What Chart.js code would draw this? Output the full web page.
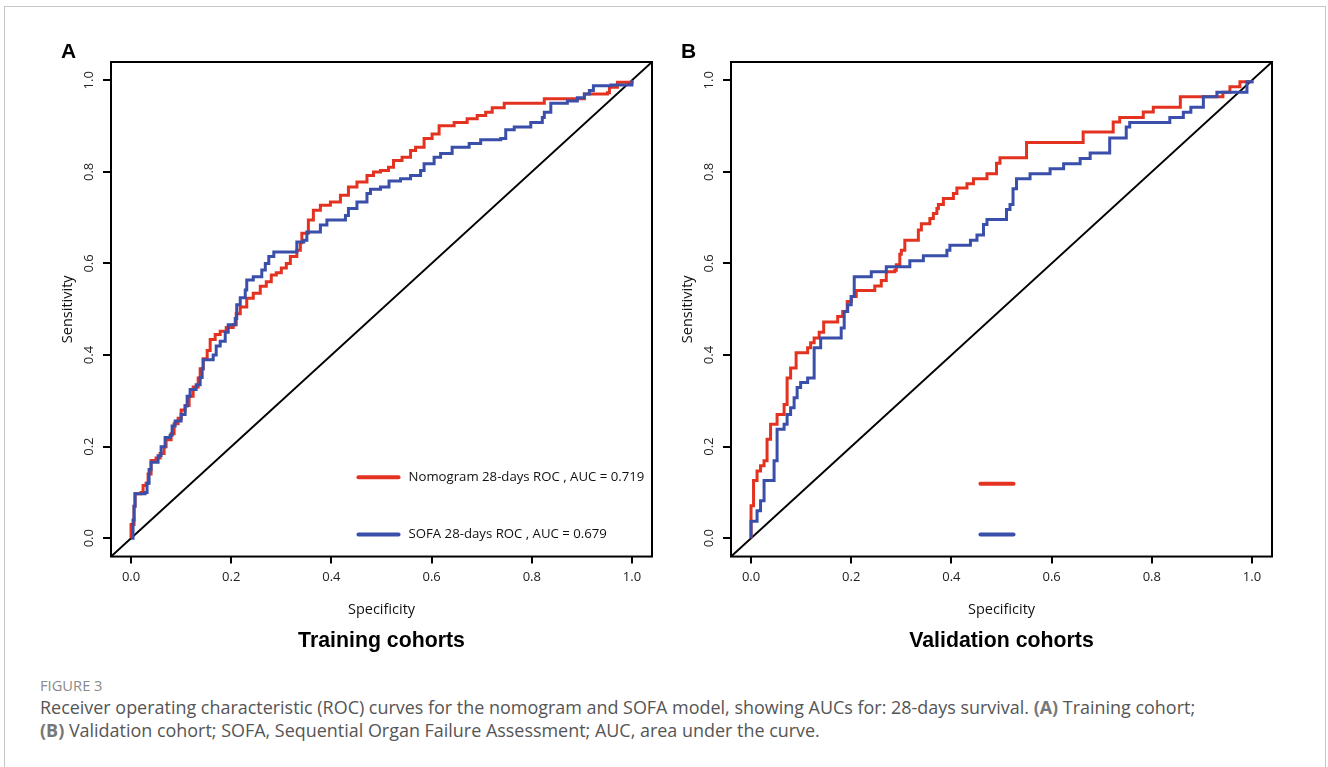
<!DOCTYPE html>
<html><head><meta charset="utf-8">
<script src="https://cdn.jsdelivr.net/npm/chart.js@4.4.0/dist/chart.umd.min.js"></script>
<style>
html,body{margin:0;padding:0;background:#fff;width:1328px;height:767px;overflow:hidden;}
#frame{position:absolute;left:4px;top:6px;width:1322px;height:800px;border:1.5px solid #c6c6c6;box-sizing:border-box;}
.panel{position:absolute;top:0;width:664px;height:665px;}
#pa{left:0}
#pb{left:620px}
#figlab{position:absolute;left:40px;top:675px;font-family:'Open Sans',sans-serif;font-size:14.7px;color:#8a8a8a;}
.cap{position:absolute;left:40px;font-family:'Open Sans',sans-serif;font-size:17.95px;color:#555;white-space:nowrap;}
.cap b{color:#777;font-weight:700;}
</style></head>
<body>
<div id="frame"></div>
<div class="panel" id="pa"><canvas id="ca" width="664" height="665"></canvas></div>
<div class="panel" id="pb"><canvas id="cb" width="664" height="665"></canvas></div>
<div id="figlab">FIGURE 3</div>
<div class="cap" id="cap1" style="top:695px">Receiver operating characteristic (ROC) curves for the nomogram and SOFA model, showing AUCs for: 28-days survival. <b>(A)</b> Training cohort;</div>
<div class="cap" id="cap2" style="top:718px"><b>(B)</b> Validation cohort; SOFA, Sequential Organ Failure Assessment; AUC, area under the curve.</div>
<script>
// ---------- data ----------
const axisTicks = [0, 0.2, 0.4, 0.6, 0.8, 1.0];
const panelLetters = ['A', 'B'];
const cohortTitles = ['Training cohorts', 'Validation cohorts'];
const legendLabelsA = ['Nomogram 28-days ROC , AUC = 0.719', 'SOFA 28-days ROC , AUC = 0.679'];
const legendLabelsB = ['', ''];
const xTitle = 'Specificity';
const yTitle = 'Sensitivity';

const trainNomogram = [[0,0],[0,0.03],[0.006,0.07],[0.008,0.097],[0.02,0.10],[0.024,0.115],[0.03,0.12],[0.034,0.14],[0.04,0.17],[0.05,0.175],[0.058,0.185],[0.066,0.2],[0.07,0.215],[0.08,0.228],[0.086,0.25],[0.094,0.262],[0.1,0.28],[0.108,0.29],[0.116,0.31],[0.124,0.33],[0.134,0.35],[0.138,0.37],[0.144,0.392],[0.152,0.41],[0.158,0.434],[0.168,0.445],[0.178,0.452],[0.19,0.46],[0.204,0.466],[0.21,0.49],[0.218,0.505],[0.231,0.524],[0.244,0.535],[0.258,0.55],[0.27,0.56],[0.28,0.575],[0.29,0.58],[0.3,0.59],[0.31,0.6],[0.318,0.615],[0.331,0.629],[0.338,0.645],[0.341,0.666],[0.354,0.695],[0.364,0.716],[0.378,0.727],[0.398,0.734],[0.418,0.749],[0.434,0.767],[0.451,0.778],[0.471,0.792],[0.484,0.80],[0.498,0.803],[0.514,0.81],[0.524,0.825],[0.541,0.832],[0.558,0.847],[0.568,0.854],[0.585,0.873],[0.601,0.883],[0.615,0.901],[0.645,0.908],[0.671,0.916],[0.691,0.923],[0.708,0.93],[0.721,0.94],[0.745,0.95],[0.818,0.95],[0.825,0.96],[0.885,0.96],[0.905,0.97],[0.951,0.973],[0.955,0.985],[0.971,0.996],[1,1]];

const trainSofa = [[0,0],[0.004,0.04],[0.006,0.07],[0.008,0.097],[0.028,0.10],[0.032,0.12],[0.036,0.15],[0.04,0.166],[0.054,0.18],[0.06,0.2],[0.068,0.22],[0.078,0.225],[0.082,0.245],[0.088,0.256],[0.1,0.27],[0.108,0.289],[0.112,0.31],[0.118,0.325],[0.13,0.335],[0.138,0.351],[0.142,0.37],[0.144,0.39],[0.164,0.40],[0.17,0.42],[0.178,0.43],[0.188,0.45],[0.194,0.466],[0.208,0.48],[0.211,0.51],[0.218,0.525],[0.228,0.542],[0.231,0.564],[0.244,0.571],[0.261,0.586],[0.268,0.6],[0.275,0.615],[0.285,0.625],[0.315,0.625],[0.331,0.647],[0.345,0.651],[0.351,0.669],[0.378,0.684],[0.391,0.695],[0.428,0.705],[0.434,0.72],[0.451,0.734],[0.471,0.753],[0.478,0.762],[0.498,0.767],[0.515,0.78],[0.538,0.785],[0.558,0.792],[0.578,0.803],[0.585,0.818],[0.605,0.832],[0.618,0.84],[0.641,0.854],[0.675,0.862],[0.698,0.87],[0.738,0.873],[0.748,0.892],[0.765,0.898],[0.798,0.908],[0.821,0.919],[0.825,0.93],[0.838,0.95],[0.871,0.955],[0.891,0.962],[0.905,0.97],[0.915,0.978],[0.923,0.988],[0.958,0.99],[1,0.993],[1,1]];

const validNomogram = [[0,0],[0,0.071],[0.005,0.071],[0.005,0.126],[0.012,0.147],[0.019,0.158],[0.026,0.169],[0.032,0.216],[0.039,0.249],[0.052,0.27],[0.066,0.292],[0.072,0.35],[0.079,0.372],[0.09,0.405],[0.113,0.416],[0.119,0.427],[0.126,0.437],[0.136,0.45],[0.145,0.472],[0.173,0.484],[0.183,0.495],[0.192,0.517],[0.2,0.528],[0.21,0.541],[0.243,0.541],[0.247,0.551],[0.257,0.551],[0.26,0.563],[0.27,0.563],[0.27,0.582],[0.287,0.585],[0.29,0.597],[0.297,0.62],[0.3,0.629],[0.307,0.651],[0.33,0.651],[0.334,0.673],[0.34,0.687],[0.357,0.698],[0.364,0.709],[0.371,0.72],[0.374,0.729],[0.384,0.742],[0.404,0.753],[0.411,0.765],[0.431,0.774],[0.444,0.785],[0.471,0.796],[0.49,0.797],[0.49,0.819],[0.497,0.831],[0.55,0.831],[0.55,0.864],[0.663,0.864],[0.663,0.887],[0.723,0.887],[0.723,0.909],[0.736,0.919],[0.783,0.919],[0.783,0.931],[0.803,0.941],[0.857,0.941],[0.857,0.964],[0.942,0.964],[0.942,0.974],[0.956,0.974],[0.956,0.986],[0.976,0.986],[0.976,0.997],[1,1]];

const validSofa = [[0,0],[0,0.037],[0.012,0.037],[0.012,0.06],[0.019,0.06],[0.019,0.082],[0.026,0.082],[0.026,0.126],[0.046,0.126],[0.046,0.169],[0.052,0.169],[0.052,0.238],[0.066,0.249],[0.072,0.27],[0.079,0.285],[0.086,0.307],[0.092,0.329],[0.099,0.34],[0.113,0.35],[0.126,0.35],[0.126,0.416],[0.139,0.416],[0.139,0.437],[0.18,0.437],[0.18,0.459],[0.186,0.459],[0.186,0.495],[0.193,0.51],[0.2,0.528],[0.206,0.542],[0.206,0.571],[0.24,0.582],[0.27,0.593],[0.317,0.606],[0.344,0.617],[0.391,0.629],[0.397,0.64],[0.438,0.651],[0.451,0.662],[0.464,0.685],[0.471,0.696],[0.51,0.696],[0.51,0.718],[0.517,0.729],[0.523,0.763],[0.53,0.785],[0.557,0.796],[0.597,0.807],[0.624,0.818],[0.657,0.829],[0.677,0.841],[0.716,0.841],[0.716,0.874],[0.749,0.874],[0.749,0.898],[0.756,0.908],[0.836,0.908],[0.836,0.919],[0.863,0.919],[0.863,0.93],[0.878,0.941],[0.903,0.941],[0.903,0.964],[0.93,0.964],[0.93,0.974],[0.99,0.974],[0.99,0.997],[1,1]];

const refLine = [[-0.04,-0.04],[1.04,1.04]];

// ---------- styling ----------
const RED = 'rgb(228,50,32)';
const BLUE = 'rgb(57,79,170)';
const AXIS_FONT = '"Open Sans", "Noto Sans", sans-serif';

const toXY = arr => arr.map(p => ({x: p[0], y: p[1]}));

const rocDecor = {
  id: 'rocDecor',
  afterDraw(chart, args, o) {
    const {ctx, chartArea: a, scales: {x, y}} = chart;
    ctx.save();
    ctx.strokeStyle = '#000'; ctx.lineWidth = 2;
    ctx.strokeRect(a.left, a.top, a.right - a.left, a.bottom - a.top);
    ctx.fillStyle = '#222'; ctx.font = '13px ' + AXIS_FONT;
    ctx.textAlign = 'center'; ctx.textBaseline = 'middle';
    y.ticks.forEach(t => {
      const py = y.getPixelForValue(t.value);
      ctx.save(); ctx.translate(a.left - 22, py); ctx.rotate(-Math.PI / 2);
      ctx.fillText(t.value.toFixed(1), 0, 0); ctx.restore();
    });
    ctx.font = 'bold 21px "Liberation Sans", Arial, sans-serif';
    ctx.fillStyle = '#000'; ctx.textAlign = 'left'; ctx.textBaseline = 'middle';
    ctx.fillText(o.letter, 61, 52);
    o.legend.forEach((item, i) => {
      const ds = chart.data.datasets[item.ds];
      const py = y.getPixelForValue(item.y);
      ctx.strokeStyle = ds.borderColor; ctx.lineWidth = 4; ctx.lineCap = 'round';
      ctx.beginPath(); ctx.moveTo(x.getPixelForValue(item.x0), py);
      ctx.lineTo(x.getPixelForValue(item.x1), py); ctx.stroke();
      if (o.labels[i]) {
        ctx.fillStyle = '#111'; ctx.font = '13.2px ' + AXIS_FONT;
        ctx.textAlign = 'left'; ctx.textBaseline = 'middle';
        ctx.fillText(o.labels[i], x.getPixelForValue(item.x1) + 10, py);
      }
    });
    ctx.restore();
  }
};

function makeChart(id, idx, nomo, sofa, labels, legendPos) {
  const setTicks = s => { s.ticks = axisTicks.map(v => ({value: v})); };
  return new Chart(document.getElementById(id), {
    type: 'scatter',
    data: {
      datasets: [
        {data: toXY(sofa), borderColor: BLUE, borderWidth: 3, showLine: true, stepped: true, pointRadius: 0, fill: false},
        {data: toXY(nomo), borderColor: RED, borderWidth: 3, showLine: true, stepped: true, pointRadius: 0, fill: false},
        {data: toXY(refLine), borderColor: '#000', borderWidth: 2, showLine: true, pointRadius: 0, fill: false}
      ]
    },
    options: {
      responsive: false, animation: false, events: [],
      layout: {padding: {top: 62, right: 12, left: 0, bottom: 0}},
      plugins: {
        legend: {display: false}, tooltip: {enabled: false},
        title: {display: true, position: 'bottom', fullSize: false, text: cohortTitles[idx], color: '#000',
          font: {family: '"Liberation Sans", Arial, sans-serif', weight: 'bold', size: 21.3}, padding: {top: 0, bottom: 11}},
        rocDecor: {letter: panelLetters[idx], labels: labels, legend: legendPos}
      },
      scales: {
        x: {type: 'linear', min: -0.04, max: 1.04,
          afterBuildTicks: setTicks,
          afterFit: s => { s.height = 71.9; },
          grid: {drawOnChartArea: false, drawTicks: true, tickLength: 7, color: '#000', lineWidth: 2},
          border: {display: false},
          ticks: {includeBounds: false, padding: 6, color: '#222', font: {family: AXIS_FONT, size: 13}, callback: v => v.toFixed(1)},
          title: {display: true, text: xTitle, color: '#111', font: {family: AXIS_FONT, size: 14.5}, padding: {top: 0, bottom: 10}}
        },
        y: {type: 'linear', min: -0.04, max: 1.04,
          afterBuildTicks: setTicks,
          afterFit: s => { s.width = 111; },
          grid: {drawOnChartArea: false, drawTicks: true, tickLength: 8, color: '#000', lineWidth: 2},
          border: {display: false},
          ticks: {display: false, includeBounds: false},
          title: {display: true, text: yTitle, color: '#111', font: {family: AXIS_FONT, size: 14.5}, padding: {top: 59, bottom: 0}}
        }
      }
    },
    plugins: [rocDecor]
  });
}

makeChart('ca', 0, trainNomogram, trainSofa, legendLabelsA,
  [{ds: 1, x0: 0.454, x1: 0.534, y: 0.133}, {ds: 0, x0: 0.454, x1: 0.534, y: 0.008}]);
makeChart('cb', 1, validNomogram, validSofa, legendLabelsB,
  [{ds: 1, x0: 0.458, x1: 0.524, y: 0.119}, {ds: 0, x0: 0.458, x1: 0.524, y: 0.008}]);
</script>
</body></html>
